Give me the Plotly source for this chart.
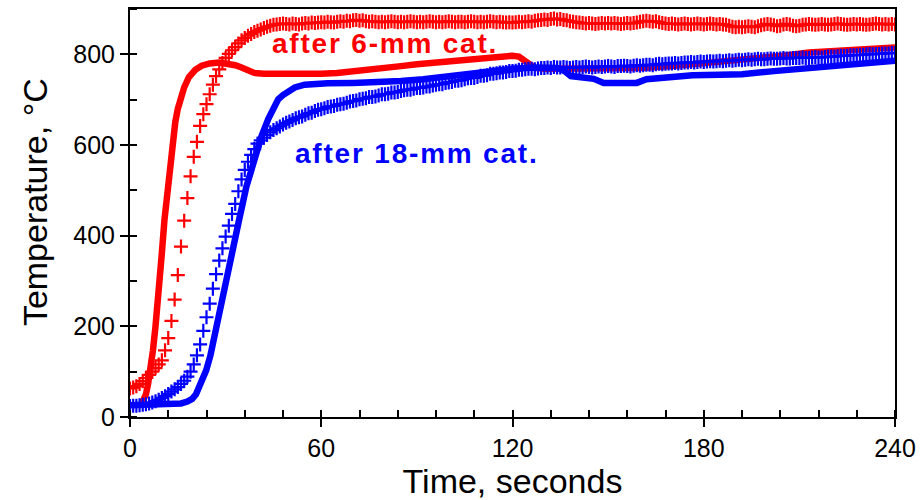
import plotly.graph_objects as go

# ---- data -------------------------------------------------------------
# sampled once per second, 0..240 s
t_cross = list(range(241))

t_after6 = [
    63, 65, 68, 73, 79, 86, 93, 100, 108, 116,
    125, 147, 174, 212, 259, 313, 376, 433, 483, 531,
    574, 607, 642, 668, 690, 712, 733, 752, 767, 781,
    792, 801, 809, 816, 824, 831, 836, 841, 845, 849,
    852, 855, 858, 861, 863, 865, 866, 867, 868,
    867, 866, 868, 867, 866, 868, 869, 868, 870, 869,
    870, 871, 870, 872, 871, 870, 872, 873, 872, 874,
    873, 875, 876, 874, 875, 873, 872, 873, 872, 871,
    872, 871, 872, 873, 872, 871, 872, 871, 872, 873,
    872, 871, 872, 871, 872, 873, 872, 871, 872, 871,
    872, 873, 872, 871, 872, 872, 871, 872, 873, 872,
    871, 872, 871, 872, 873, 872, 871, 872, 871, 870,
    871, 870, 871, 872, 871, 872, 873, 872, 874, 875,
    876, 877, 876, 878, 879, 877, 878, 876, 875, 873,
    872, 871, 870, 869, 868, 869, 868, 867, 868, 869,
    868, 869, 868, 869, 868, 867, 868, 869, 868, 869,
    870, 872, 873, 874, 873, 872, 873, 871, 869, 868,
    867, 868, 867, 866, 867, 868, 867, 866, 867, 868,
    867, 866, 867, 868, 867, 866, 867, 866, 865, 863,
    861, 860, 861, 860, 861, 862, 861, 860, 862, 864,
    866, 867, 866, 864, 862, 863, 866, 867, 866, 863,
    862, 863, 865, 866, 867, 866, 865, 866, 867, 866,
    865, 866, 867, 868, 867, 866, 865, 866, 867, 866,
    867, 866, 865, 866, 867, 868, 867, 866, 867, 866,
    867, 866,
]

t_after18 = [
    24, 25, 25, 26, 27, 28, 30, 32, 35, 38,
    42, 46, 51, 56, 61, 66, 73, 80, 89, 100,
    116, 136, 160, 190, 220, 250, 283, 315, 345, 372,
    398, 422, 448, 470, 498, 524, 545, 563, 578, 591,
    603, 610, 616, 622, 628, 633, 637, 641, 645, 649,
    652, 655, 659, 661, 663, 667, 670, 671, 675, 678,
    679, 681, 684, 685, 686, 689, 690, 691, 693, 696,
    697, 698, 701, 702, 703, 706, 706, 707, 709, 712,
    712, 713, 716, 716, 717, 719, 721, 722, 722, 724,
    726, 726, 727, 729, 729, 731, 733, 734, 734, 737,
    738, 739, 742, 742, 743, 745, 747, 748, 748, 750,
    753, 753, 754, 757, 757, 758, 760, 760, 761, 763,
    763, 764, 766, 766, 767, 768, 768, 767, 769, 770,
    770, 771, 770, 772, 771, 771, 772, 771, 770, 771,
    772, 771, 772, 773, 772, 771, 772, 773, 772, 773,
    774, 773, 772, 774, 774, 775, 774, 773, 775, 776,
    775, 776, 777, 777, 776, 778, 779, 778, 779, 780,
    780, 781, 780, 781, 782, 782, 783, 782, 783, 784,
    783, 784, 785, 784, 785, 786, 785, 786, 787, 786,
    787, 788, 787, 788, 789, 788, 789, 790, 789, 789,
    790, 791, 790, 790, 791, 792, 791, 791, 792, 792,
    792, 793, 792, 792, 793, 794, 793, 793, 794, 795,
    795, 795, 796, 797, 797, 797, 798, 798, 798, 799,
    799, 800, 801, 800, 801, 801, 802, 802, 802, 803,
    803,
]

# continuous traces
t_red = [3.5, 4.3, 5.0, 5.7, 6.5, 7.2, 8.0, 8.7, 9.4, 10.0, 10.8, 11.9, 12.9,
         13.6, 14.2, 15.0, 15.8, 17.0, 18.5, 20.5, 22.5, 25, 28, 31, 33, 35,
         37, 39, 42, 50, 60, 65, 70, 75, 80, 85, 90, 96, 100, 104, 108, 112,
         117, 120, 122, 123.5, 125, 127, 130, 135, 140, 145, 150, 160, 170,
         180, 187, 195, 205, 213, 220, 230, 240]
y_red = [27, 37, 50, 74, 108, 147, 200, 250, 294, 362, 434, 508, 581,
         625, 650, 680, 702, 727, 750, 766, 775, 780, 782, 780, 776, 771,
         764, 759, 757, 756, 757, 759, 762, 765, 770, 774, 778, 782, 785, 788,
         792, 794, 797, 797, 795, 788, 777, 770, 768, 768, 768, 767, 768, 770,
         774, 780, 785, 790, 797, 804, 807, 810, 815]

t_blue = [0, 5, 10, 14, 16, 18, 19.5, 20.7, 21.7, 22.8, 23.9, 25.2, 26.3, 27.3,
          28.3, 29.4, 30.6, 31.9, 34.2, 36.5, 39.4, 41.3, 43.4, 45, 46.5, 48,
          49.5, 51.7, 54.8, 58, 62, 70, 77, 85, 92, 98, 106, 113.6, 120, 127,
          134, 136, 138.3, 142, 145.5, 148.6, 155, 159, 162, 170, 176.5, 185,
          192, 202, 210, 217.7, 228, 238, 240]
y_blue = [26, 27, 27, 28, 30, 34, 40, 50, 66, 84, 103, 135, 172, 210,
          248, 287, 324, 361, 434, 508, 581, 620, 658, 683, 701, 710,
          717, 727, 733, 735, 736, 737, 738, 741, 745, 749, 756, 763, 768, 771,
          770, 765, 752, 748, 746, 737, 736, 737, 745, 750, 754, 755,
          756, 763, 768, 774, 780, 785, 786]

x_ticks = [0, 60, 120, 180, 240]
y_ticks = [0, 200, 400, 600, 800]

RED = "#ff0000"
BLUE = "#0000ff"
FONT = "Liberation Sans, Arial, sans-serif"

fig = go.Figure()

fig.add_trace(go.Scatter(x=t_red, y=y_red, mode="lines",
                         line=dict(color=RED, width=6.5), showlegend=False))
fig.add_trace(go.Scatter(x=t_cross, y=t_after6, mode="markers",
                         marker=dict(symbol="cross-thin", size=10, color=RED,
                                     line=dict(color=RED, width=2.2)),
                         showlegend=False))
fig.add_trace(go.Scatter(x=t_blue, y=y_blue, mode="lines",
                         line=dict(color=BLUE, width=6.5), showlegend=False))
fig.add_trace(go.Scatter(x=t_cross, y=t_after18, mode="markers",
                         marker=dict(symbol="cross-thin", size=10, color=BLUE,
                                     line=dict(color=BLUE, width=2.2)),
                         showlegend=False))

fig.add_annotation(x=44, y=823, xanchor="left", yanchor="middle", showarrow=False,
                   text='<b><span style="letter-spacing:1.8px">after 6-mm cat.</span></b>',
                   font=dict(family=FONT, size=28, color=RED))
fig.add_annotation(x=51, y=582, xanchor="left", yanchor="middle", showarrow=False,
                   text='<b><span style="letter-spacing:1.8px">after 18-mm cat.</span></b>',
                   font=dict(family=FONT, size=28, color=BLUE))

# vertical axis title, placed a little above the plot's mid-height
fig.add_annotation(xref="paper", yref="paper", x=-0.124, y=0.527,
                   xanchor="center", yanchor="middle", showarrow=False,
                   textangle=-90, text="Temperature, °C",
                   font=dict(family=FONT, size=34, color="black"))

axis_common = dict(
    showline=True, linecolor="black", linewidth=2, mirror=True,
    showgrid=False, zeroline=False, automargin=False,
    ticks="outside", ticklen=8, tickwidth=2, tickcolor="black",
    tickfont=dict(family=FONT, size=25, color="black"),
    ticklabeloverflow="allow",
)

fig.update_xaxes(range=[0, 240], tickvals=x_ticks,
                 minor=dict(dtick=12, tick0=0, ticks="inside", ticklen=7,
                            tickwidth=1.5, tickcolor="black"),
                 title=dict(text="Time, seconds", standoff=10,
                            font=dict(family=FONT, size=34, color="black")),
                 **axis_common)
fig.update_yaxes(range=[0, 900], tickvals=y_ticks,
                 minor=dict(dtick=100, tick0=0, ticks="inside", ticklen=7,
                            tickwidth=1.5, tickcolor="black"),
                 **axis_common)

fig.update_layout(width=920, height=500,
                  margin=dict(l=130, r=25, t=9, b=83, autoexpand=False),
                  paper_bgcolor="white", plot_bgcolor="white")

fig.write_html("out.html")
